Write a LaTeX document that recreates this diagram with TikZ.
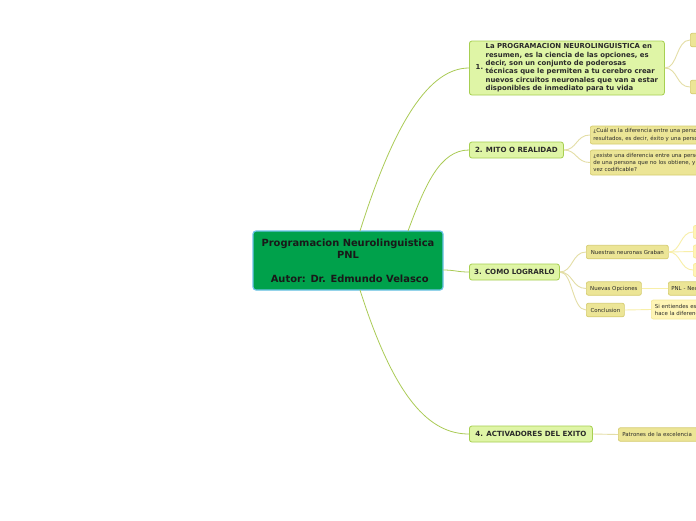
\documentclass[tikz,border=0pt]{standalone}
\usepackage{fontspec}
\setmainfont{DejaVu Sans}
\definecolor{cfill}{HTML}{00A14B}
\definecolor{cdraw}{HTML}{6CC3EA}
\definecolor{onefill}{HTML}{DFF5A6}
\definecolor{onedraw}{HTML}{A7CF52}
\definecolor{onelink}{HTML}{AACB55}
\definecolor{twofill}{HTML}{ECE596}
\definecolor{twodraw}{HTML}{D5CC70}
\definecolor{twolink}{HTML}{E4DEA6}
\definecolor{threefill}{HTML}{FFF5B5}
\definecolor{threedraw}{HTML}{F6EA9A}
\definecolor{threelink}{HTML}{F8EFA8}
\definecolor{txt}{HTML}{2A2A2A}
\tikzset{
  central/.style={draw=cdraw, fill=cfill, line width=1.2pt, rounded corners=3pt,
    text=black!90, align=center, inner sep=0pt,
    font=\bfseries\fontsize{9.9}{12}\selectfont},
  lone/.style={draw=onedraw, fill=onefill, line width=0.8pt, rounded corners=2.5pt,
    text=txt, inner sep=0pt, minimum height=16pt, anchor=west,
    font=\bfseries\fontsize{7.1}{8}\selectfont},
  ltwo/.style={draw=twodraw, fill=twofill, line width=0.7pt, rounded corners=2pt,
    text=txt, inner sep=0pt, minimum height=13.5pt, anchor=west,
    font=\fontsize{5.45}{7.5}\selectfont},
  lthree/.style={draw=threedraw, fill=threefill, line width=0.7pt, rounded corners=2pt,
    text=txt, inner sep=0pt, minimum height=13pt, anchor=west,
    font=\fontsize{5.45}{7.5}\selectfont},
  linkone/.style={draw=onelink, line width=0.8pt},
  linktwo/.style={draw=twolink, line width=0.9pt},
  linkthree/.style={draw=threelink, line width=0.9pt},
}
\begin{document}
\begin{tikzpicture}[x=1pt,y=-1pt]
\useasboundingbox (0,0) rectangle (696,520);
\clip (0,0) rectangle (696,520);
\fill[white] (0,0) rectangle (696,520);

% named start points on the central node
\coordinate (s1) at (360,231);
\coordinate (s2) at (408,231);
\coordinate (s3) at (443,270);
\coordinate (s4) at (360,290);

% level 1 nodes
\node[lone, minimum width=195pt, minimum height=54pt] (n1) at (469,68)
  {\fontsize{6.9}{8.4}\selectfont 1.\hspace{2.5pt}\begin{tabular}{@{}l@{}}
  La PROGRAMACION NEUROLINGUISTICA en\\
  resumen, es la ciencia de las opciones, es\\
  decir, son un conjunto de poderosas\\
  técnicas que le permiten a tu cerebro crear\\
  nuevos circuitos neuronales que van a estar\\
  disponibles de inmediato para tu vida\end{tabular}};
\node[lone, minimum width=94pt] (n2) at (469,150) {2. MITO O REALIDAD};
\node[lone, minimum width=90pt] (n3) at (469,272) {3. COMO LOGRARLO};
\node[lone, minimum width=123pt] (n4) at (469,434) {4. ACTIVADORES DEL EXITO};

% children of 1
\node[ltwo, minimum width=30pt] (a1) at (690,40) {};
\node[ltwo, minimum width=30pt] (a2) at (690,87) {};

% children of 2
\node[ltwo, minimum width=200pt, minimum height=18pt, align=left, text width=194pt, inner xsep=3pt] (m1) at (590,135)
  {¿Cuál es la diferencia entre una persona que obtiene\\resultados, es decir, éxito y una persona que no};
\node[ltwo, minimum width=200pt, minimum height=25pt, align=left, text width=194pt, inner xsep=3pt,
  font=\fontsize{5.45}{7}\selectfont] (m2) at (590,162.5)
  {¿existe una diferencia entre una persona que obtiene\\de una persona que no los obtiene, y es esa\\vez codificable?};

% children of 3
\node[ltwo, minimum width=82pt] (g1) at (586,252) {Nuestras neuronas Graban};
\node[ltwo, minimum width=55pt] (g2) at (586,288.5) {Nuevas Opciones};
\node[ltwo, minimum width=38pt] (g3) at (586,310) {Conclusion};
\node[lthree, minimum width=30pt] (h1) at (693,232) {};
\node[lthree, minimum width=30pt] (h2) at (693,251.5) {};
\node[lthree, minimum width=30pt] (h3) at (693,270) {};
\node[ltwo, minimum width=90pt, align=left, text width=86pt, inner xsep=3pt] (h4) at (668,288.5) {PNL - Neurolinguistica};
\node[lthree, minimum width=90pt, minimum height=19pt, align=left, text width=86pt, inner xsep=3.5pt,
  font=\fontsize{5.45}{7}\selectfont] (h5) at (651,309.5) {Si entiendes esto\\hace la diferencia};

% child of 4
\node[ltwo, minimum width=110pt, align=left, text width=104pt, inner xsep=4pt] (p1) at (618,434.5) {Patrones de la excelencia};

% central node
\node[central, minimum width=190pt, minimum height=59pt] (c) at (348,260.5)
  {Programacion Neurolinguistica\\PNL\\[12pt]\ Autor: Dr. Edmundo Velasco};

% links from central
\draw[linkone] (s1) .. controls (395,120) and (430,68) .. (n1.west);
\draw[linkone] (s2) .. controls (425,185) and (440,150) .. (n2.west);
\draw[linkone] (s3) .. controls (455,270) and (457,272) .. (n3.west);
\draw[linkone] (s4) .. controls (395,400) and (430,434) .. (n4.west);

% links level 2
\draw[linktwo] (n1.east) .. controls (678,68) and (676,40) .. (a1.west);
\draw[linktwo] (n1.east) .. controls (678,68) and (676,87) .. (a2.west);
\draw[linktwo] (n2.east) .. controls (577,150) and (576,135) .. (m1.west);
\draw[linktwo] (n2.east) .. controls (577,150) and (576,162.5) .. (m2.west);
\draw[linktwo] (n3.east) .. controls (573,272) and (572,252) .. (g1.west);
\draw[linktwo] (n3.east) .. controls (573,272) and (572,288.5) .. (g2.west);
\draw[linktwo] (n3.east) .. controls (573,272) and (572,310) .. (g3.west);
\draw[linktwo] (n4.east) -- (p1.west);

% links level 3
\draw[linkthree] (g1.east) .. controls (681,252) and (680,232) .. (h1.west);
\draw[linkthree] (g1.east) -- (h2.west);
\draw[linkthree] (g1.east) .. controls (681,252) and (680,270) .. (h3.west);
\draw[linkthree] (g2.east) -- (h4.west);
\draw[linkthree] (g3.east) -- (h5.west);
\end{tikzpicture}
\end{document}
